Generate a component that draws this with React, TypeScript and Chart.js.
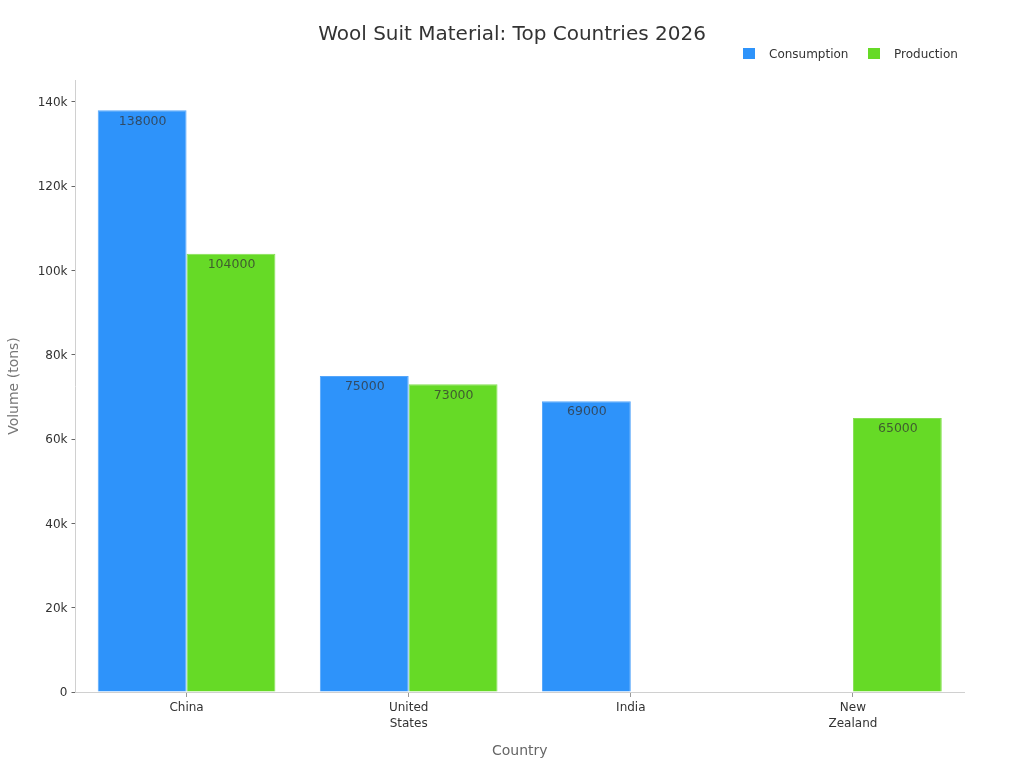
import { useEffect, useRef } from 'react';
import { Chart, registerables } from 'chart.js';

Chart.register(...registerables);

const FONT = '"DejaVu Sans", sans-serif';

const countries = ['China', ['United', 'States'], 'India', ['New', 'Zealand']];
const consumption = [138000, 75000, 69000, null];
const production = [104000, 73000, null, 65000];
const yTicks = [0, 20000, 40000, 60000, 80000, 100000, 120000, 140000];

// prints each value just inside the top of its bar
const barLabels = {
  id: 'barLabels',
  afterDatasetsDraw(chart: Chart) {
    const { ctx } = chart;
    ctx.save();
    ctx.font = `12.5px ${FONT}`;
    ctx.fillStyle = 'rgba(51,51,51,0.75)';
    ctx.textAlign = 'center';
    ctx.textBaseline = 'middle';
    chart.data.datasets.forEach((ds, i) => {
      chart.getDatasetMeta(i).data.forEach((bar, j) => {
        const v = ds.data[j];
        if (v == null) return;
        ctx.fillText(String(v), bar.x + 0.5, bar.y + 11);
      });
    });
    ctx.restore();
  },
};

// legend spacing is wider than the built in one allows
const topLegend = {
  id: 'topLegend',
  afterLayout(chart: any) {
    // title is centred on the whole canvas, not on the padded area
    chart.titleBlock.left = 0;
    chart.titleBlock.right = 1024;
  },
  afterDraw(chart: Chart) {
    const { ctx } = chart;
    const starts = [743, 868];
    ctx.save();
    ctx.font = `12px ${FONT}`;
    ctx.textBaseline = 'middle';
    chart.data.datasets.forEach((ds, i) => {
      ctx.fillStyle = ds.backgroundColor as string;
      ctx.fillRect(starts[i], 48, 12, 11);
      ctx.fillStyle = '#333';
      ctx.fillText(ds.label as string, starts[i] + 26, 55);
    });
    ctx.restore();
  },
};

export default function App() {
  const canvasRef = useRef<HTMLCanvasElement>(null);

  useEffect(() => {
    document.body.style.margin = '0';
    if (!canvasRef.current) return;
    const chart = new Chart(canvasRef.current, {
      type: 'bar',
      data: {
        labels: countries as any,
        datasets: [
          {
            label: 'Consumption',
            data: consumption,
            backgroundColor: '#2E93FA',
            borderColor: '#55a6fb',
            borderWidth: 1,
          },
          {
            label: 'Production',
            data: production,
            backgroundColor: '#66DA26',
            borderColor: '#85e052',
            borderWidth: 1,
          },
        ],
      },
      plugins: [barLabels, topLegend],
      options: {
        responsive: false,
        animation: false,
        datasets: { bar: { categoryPercentage: 0.8, barPercentage: 1 } },
        layout: { padding: { right: 60 } },
        plugins: {
          legend: { display: false },
          tooltip: { enabled: false },
          title: {
            display: true,
            text: 'Wool Suit Material: Top Countries 2026',
            color: '#333',
            font: { family: FONT, size: 20, weight: 'normal' },
            padding: { top: 23, bottom: 33 },
          },
        },
        scales: {
          x: {
            grid: { drawOnChartArea: false, color: '#999', tickLength: 5, offset: false },
            border: { color: '#d0d0d0' },
            ticks: {
              color: '#333',
              font: { family: FONT, size: 12, lineHeight: 1.33 },
              padding: 3,
              maxRotation: 0,
              autoSkip: false,
            },
            title: {
              display: true,
              text: 'Country',
              color: '#666',
              font: { family: FONT, size: 14 },
              padding: { top: 0, bottom: 8 },
            },
            afterFit(scale: any) {
              scale.height = 76;
            },
          },
          y: {
            min: 0,
            max: 145200,
            grid: { drawOnChartArea: false, color: '#666', tickLength: 4 },
            border: { color: '#d0d0d0' },
            ticks: {
              color: '#333',
              font: { family: FONT, size: 12 },
              padding: 4,
              labelOffset: 1,
              callback: (v: any) => (v === 0 ? '0' : `${v / 1000}k`),
            },
            afterBuildTicks(scale: any) {
              scale.ticks = yTicks.map((value) => ({ value }));
            },
            title: {
              display: true,
              text: 'Volume (tons)',
              color: '#777',
              font: { family: FONT, size: 14 },
              padding: { top: 6, bottom: 0 },
            },
            afterFit(scale: any) {
              scale.width = 75.5;
            },
          },
        },
      },
    });
    return () => chart.destroy();
  }, []);

  return <canvas ref={canvasRef} width={1024} height={768} style={{ display: 'block' }} />;
}
